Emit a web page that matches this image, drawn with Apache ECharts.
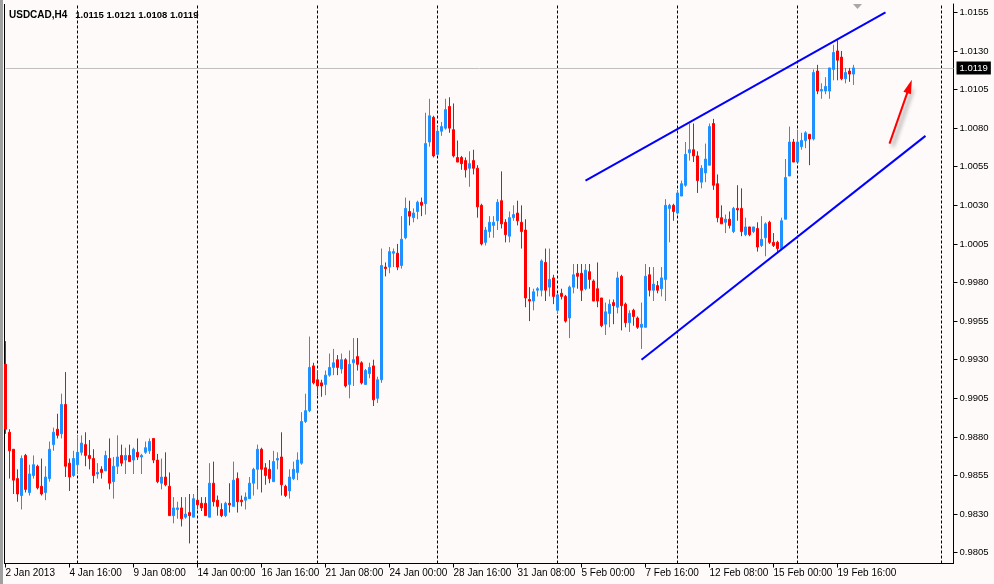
<!DOCTYPE html>
<html><head><meta charset="utf-8">
<script src="https://cdn.jsdelivr.net/npm/echarts@6/dist/echarts.min.js"></script>
<style>html,body{margin:0;padding:0;background:#FFFAFA}#c{width:994px;height:584px}</style>
</head><body><div id="c"></div>
<script>
const symbolName = 'USDCAD';
const timeframe = 'H4';
const opens = [0.9927,0.9883,0.9872,0.9853,0.9842,0.9868,0.9844,0.9855,0.9861,0.9848,0.9844,0.9853,0.9875,0.9885,0.9882,0.9901,0.9863,0.9855,0.9862,0.9870,
0.9875,0.9868,0.9866,0.9856,0.9859,0.9858,0.9866,0.9851,0.9861,0.9868,0.9865,0.9868,0.9865,0.9870,0.9867,0.9870,0.9871,0.9879,0.9865,0.9850,
0.9854,0.9848,0.9829,0.9833,0.9834,0.9828,0.9831,0.9828,0.9839,0.9837,0.9837,0.9828,0.9850,0.9839,0.9833,0.9829,0.9837,0.9835,0.9853,0.9839,
0.9839,0.9840,0.9850,0.9859,0.9872,0.9860,0.9859,0.9851,0.9865,0.9867,0.9848,0.9845,0.9853,0.9857,0.9863,0.9890,0.9897,0.9926,0.9917,0.9915,
0.9914,0.9920,0.9925,0.9930,0.9924,0.9930,0.9914,0.9928,0.9932,0.9928,0.9914,0.9921,0.9926,0.9905,0.9917,0.9990,0.9990,0.9999,0.9999,0.9991,
1.0009,1.0026,1.0022,1.0026,1.0032,1.0031,1.0071,1.0087,1.0063,1.0078,1.0080,1.0094,1.0079,1.0061,1.0061,1.0059,1.0054,1.0059,1.0054,1.0030,
1.0006,1.0013,1.0017,1.0020,1.0033,1.0019,1.0010,1.0022,1.0025,1.0019,1.0014,0.9969,0.9968,0.9975,0.9975,0.9993,0.9977,0.9983,0.9962,0.9973,
0.9971,0.9957,0.9977,0.9986,0.9986,0.9976,0.9987,0.9981,0.9976,0.9970,0.9953,0.9960,0.9967,0.9964,0.9984,0.9966,0.9954,0.9962,0.9957,0.9951,
0.9951,0.9985,0.9975,0.9978,0.9976,0.9982,1.0028,1.0030,1.0025,1.0036,1.0043,1.0064,1.0066,1.0062,1.0045,1.0051,1.0056,1.0083,1.0044,1.0022,
1.0019,1.0021,1.0013,1.0028,1.0028,1.0011,1.0016,1.0013,1.0015,1.0004,1.0009,1.0019,1.0006,1.0006,1.0002,1.0021,1.0049,1.0071,1.0058,1.0068,
1.0072,1.0076,1.0073,1.0117,1.0104,1.0104,1.0104,1.0118,1.0130,1.0126,1.0112,1.0117,1.0115];
const closes = [0.9885,0.9871,0.9852,0.9843,0.9866,0.9846,0.9856,0.9862,0.9847,0.9843,0.9854,0.9872,0.9883,0.9881,0.9901,0.9861,0.9854,0.9866,0.9870,0.9876,
0.9868,0.9866,0.9855,0.9857,0.9857,0.9868,0.9850,0.9861,0.9867,0.9863,0.9868,0.9864,0.9872,0.9867,0.9868,0.9873,0.9877,0.9865,0.9851,0.9854,
0.9849,0.9829,0.9834,0.9834,0.9827,0.9830,0.9829,0.9840,0.9836,0.9834,0.9829,0.9850,0.9838,0.9835,0.9829,0.9837,0.9836,0.9852,0.9838,0.9838,
0.9841,0.9850,0.9859,0.9872,0.9859,0.9855,0.9853,0.9864,0.9866,0.9849,0.9842,0.9854,0.9859,0.9865,0.9890,0.9897,0.9925,0.9915,0.9913,0.9913,
0.9920,0.9925,0.9928,0.9925,0.9930,0.9913,0.9927,0.9930,0.9927,0.9915,0.9923,0.9925,0.9904,0.9917,0.9991,0.9989,1.0000,1.0000,0.9990,1.0008,
1.0028,1.0023,1.0025,1.0032,1.0030,1.0070,1.0088,1.0062,1.0078,1.0081,1.0092,1.0080,1.0062,1.0058,1.0057,1.0053,1.0057,1.0054,1.0029,1.0005,
1.0014,1.0019,1.0019,1.0032,1.0018,1.0011,1.0022,1.0024,1.0020,1.0013,0.9970,0.9968,0.9974,0.9976,0.9994,0.9975,0.9982,0.9971,0.9972,0.9971,
0.9955,0.9977,0.9985,0.9984,0.9975,0.9988,0.9982,0.9968,0.9968,0.9952,0.9961,0.9966,0.9965,0.9983,0.9965,0.9954,0.9960,0.9958,0.9951,0.9953,
0.9984,0.9975,0.9979,0.9975,0.9983,1.0030,1.0030,1.0026,1.0038,1.0044,1.0063,1.0066,1.0062,1.0046,1.0054,1.0060,1.0081,1.0043,1.0022,1.0018,
1.0021,1.0017,1.0028,1.0027,1.0013,1.0016,1.0011,1.0016,1.0003,1.0008,1.0018,1.0006,1.0004,1.0002,1.0020,1.0048,1.0071,1.0058,1.0071,1.0072,
1.0077,1.0073,1.0116,1.0104,1.0105,1.0107,1.0119,1.0129,1.0124,1.0112,1.0116,1.0115,1.0119];
const lows = [0.9882,0.9853,0.9843,0.9838,0.9833,0.9844,0.9842,0.9853,0.9846,0.9842,0.9839,0.9851,0.9871,0.9879,0.9879,0.9854,0.9845,0.9854,0.9856,0.9868,
0.9861,0.9859,0.9850,0.9853,0.9853,0.9858,0.9846,0.9840,0.9856,0.9861,0.9856,0.9864,0.9856,0.9865,0.9856,0.9869,0.9869,0.9863,0.9850,0.9846,
0.9848,0.9829,0.9824,0.9827,0.9822,0.9827,0.9811,0.9828,0.9833,0.9832,0.9829,0.9828,0.9835,0.9829,0.9828,0.9828,0.9831,0.9835,0.9831,0.9835,
0.9833,0.9840,0.9842,0.9846,0.9844,0.9849,0.9850,0.9851,0.9859,0.9842,0.9841,0.9840,0.9852,0.9852,0.9862,0.9889,0.9896,0.9914,0.9907,0.9906,
0.9907,0.9919,0.9920,0.9920,0.9921,0.9912,0.9905,0.9913,0.9923,0.9914,0.9914,0.9918,0.9900,0.9902,0.9915,0.9984,0.9986,0.9990,0.9988,0.9989,
1.0008,1.0017,1.0019,1.0021,1.0023,1.0024,1.0068,1.0061,1.0062,1.0075,1.0079,1.0077,1.0061,1.0058,1.0053,1.0048,1.0042,1.0050,1.0022,1.0004,
1.0004,1.0009,1.0009,1.0014,1.0015,1.0006,1.0006,1.0020,1.0017,1.0002,0.9964,0.9955,0.9962,0.9971,0.9971,0.9968,0.9971,0.9966,0.9960,0.9969,
0.9954,0.9944,0.9973,0.9976,0.9968,0.9975,0.9976,0.9968,0.9964,0.9951,0.9946,0.9951,0.9953,0.9960,0.9949,0.9951,0.9948,0.9952,0.9950,0.9937,
0.9951,0.9971,0.9968,0.9973,0.9971,0.9968,1.0006,1.0020,1.0024,1.0036,1.0042,1.0059,1.0058,1.0038,1.0041,1.0045,1.0056,1.0040,1.0019,1.0018,
1.0012,1.0015,1.0012,1.0020,1.0010,1.0010,1.0010,1.0012,1.0000,1.0003,0.9997,1.0005,1.0003,0.9999,1.0002,1.0021,1.0049,1.0058,1.0058,1.0066,
1.0067,1.0056,1.0072,1.0102,1.0099,1.0102,1.0099,1.0111,1.0111,1.0111,1.0109,1.0110,1.0108];
const highs = [0.9942,0.9885,0.9872,0.9859,0.9868,0.9869,0.9862,0.9868,0.9862,0.9866,0.9861,0.9877,0.9886,0.9895,0.9908,0.9922,0.9866,0.9871,0.9881,0.9881,
0.9883,0.9878,0.9872,0.9863,0.9861,0.9871,0.9879,0.9867,0.9881,0.9875,0.9873,0.9875,0.9873,0.9879,0.9869,0.9877,0.9879,0.9879,0.9869,0.9866,
0.9870,0.9857,0.9841,0.9838,0.9841,0.9841,0.9843,0.9843,0.9847,0.9841,0.9841,0.9863,0.9864,0.9842,0.9837,0.9838,0.9850,0.9864,0.9857,0.9842,
0.9844,0.9854,0.9860,0.9875,0.9873,0.9863,0.9865,0.9871,0.9870,0.9883,0.9849,0.9859,0.9864,0.9870,0.9896,0.9908,0.9945,0.9928,0.9923,0.9917,
0.9923,0.9934,0.9937,0.9933,0.9934,0.9931,0.9936,0.9944,0.9944,0.9929,0.9924,0.9928,0.9930,0.9919,1.0002,0.9993,1.0003,1.0002,1.0005,1.0023,
1.0035,1.0033,1.0028,1.0033,1.0035,1.0090,1.0099,1.0088,1.0081,1.0084,1.0099,1.0100,1.0096,1.0072,1.0062,1.0061,1.0065,1.0066,1.0056,1.0031,
1.0016,1.0023,1.0023,1.0034,1.0052,1.0021,1.0026,1.0030,1.0033,1.0030,1.0021,0.9977,0.9976,0.9977,0.9995,1.0002,1.0002,0.9985,0.9973,0.9976,
0.9972,0.9978,0.9992,0.9992,0.9992,0.9992,0.9992,0.9982,0.9993,0.9970,0.9967,0.9969,0.9969,0.9987,0.9985,0.9967,0.9962,0.9963,0.9958,0.9967,
0.9992,0.9990,0.9990,0.9981,0.9990,1.0034,1.0031,1.0031,1.0040,1.0046,1.0071,1.0083,1.0083,1.0065,1.0056,1.0070,1.0083,1.0086,1.0050,1.0030,
1.0024,1.0026,1.0029,1.0043,1.0041,1.0022,1.0016,1.0016,1.0019,1.0023,1.0019,1.0020,1.0012,1.0007,1.0022,1.0060,1.0081,1.0073,1.0079,1.0077,
1.0078,1.0076,1.0118,1.0121,1.0109,1.0113,1.0119,1.0134,1.0137,1.0130,1.0119,1.0119,1.0121];
const tickLabels = ['2 Jan 2013','4 Jan 16:00','9 Jan 08:00','14 Jan 00:00','16 Jan 16:00','21 Jan 08:00','24 Jan 00:00','28 Jan 16:00','31 Jan 08:00','5 Feb 00:00','7 Feb 16:00','12 Feb 08:00','15 Feb 00:00','19 Feb 16:00'];
const tickEvery = 16;
const priceTicks = [0.9805,0.9830,0.9855,0.9880,0.9905,0.9930,0.9955,0.9980,1.0005,1.0030,1.0055,1.0080,1.0105,1.0130,1.0155];
const currentPrice = 1.0119;
const weekStartIdx = [18,48,78,108,138,168,198,234];
const upperChannel = [[145,1.0046],[220,1.0155]];
const lowerChannel = [[159,0.9930],[230,1.0075]];
const arrowFrom = [221,1.0070];
const arrowTo = [226,1.0107];
const totalSlots = 238;
const yMin = 0.97980, yMax = 1.01604;

// bar time categories (H4, weekdays only)
const cats = [];
(function(){
  const d = new Date(Date.UTC(2013,0,2)); const mon = ['Jan','Feb','Mar'];
  while (cats.length < totalSlots) {
    const wd = d.getUTCDay();
    if (wd !== 0 && wd !== 6) {
      for (let h = 0; h < 24 && cats.length < totalSlots; h += 4)
        cats.push(d.getUTCDate() + ' ' + mon[d.getUTCMonth()] + ' ' + String(h).padStart(2,'0') + ':00');
    }
    d.setUTCDate(d.getUTCDate() + 1);
  }
})();
const candles = opens.map((o,i) => [o, closes[i], lows[i], highs[i]]);
const n = opens.length;
const fmt = v => v.toFixed(4);
const FONT = 'Liberation Sans';

const chart = echarts.init(document.getElementById('c'), null, {renderer:'canvas'});
chart.setOption({
  animation: false,
  backgroundColor: '#FFFAFA',
  title: {
    left: 9, top: 6, padding: 0,
    text: '{a|' + symbolName + ',' + timeframe + '} {b|' + [opens[n-1], highs[n-1], lows[n-1], closes[n-1]].map(fmt).join(' ') + '}',
    textStyle: {rich: {
      a: {fontFamily: FONT, fontSize: 10, color: '#000'},
      b: {fontFamily: FONT, fontSize: 9.5, color: '#000', padding: [0,0,0,3]}
    }}
  },
  grid: {left: 5.5, right: 40.5, top: 4, bottom: 20.5, containLabel: false},
  xAxis: {
    type: 'category', data: cats, boundaryGap: false,
    axisLine: {show: true, lineStyle: {color: '#000', width: 1}},
    axisTick: {show: true, length: 4, lineStyle: {color: '#000'},
      interval: (idx) => idx % tickEvery === 0 && idx / tickEvery < tickLabels.length},
    axisLabel: {show: true, align: 'left', margin: 5, color: '#000', fontFamily: FONT, fontSize: 10,
      interval: (idx) => idx % tickEvery === 0 && idx / tickEvery < tickLabels.length,
      formatter: (v, idx) => tickLabels[idx / tickEvery] || ''},
    splitLine: {show: false}
  },
  yAxis: {
    type: 'value', position: 'right', min: yMin, max: yMax, scale: true,
    axisLine: {show: true, lineStyle: {color: '#000', width: 1}},
    axisTick: {show: true, length: 4, inside: false, customValues: priceTicks, lineStyle: {color: '#000'}},
    axisLabel: {show: true, margin: 6, color: '#000', fontFamily: FONT, fontSize: 9.5,
      customValues: priceTicks, formatter: v => fmt(v)},
    splitLine: {show: false}
  },
  series: [
    {
      type: 'candlestick', z: 2, clip: false, barWidth: 2,
      data: candles,
      itemStyle: {color: '#1E90FF', color0: '#FF0000', borderColor: '#1E90FF', borderColor0: '#FF0000', borderWidth: 1},
      emphasis: {disabled: true},
      markLine: {
        z: 1, silent: true, symbol: ['none','none'], animation: false, precision: 4,
        label: {show: false},
        data: weekStartIdx.map(i => ({xAxis: i, lineStyle: {color: '#000', width: 1, type: [3,2]}, label: {show: false}}))
          .concat([{yAxis: currentPrice, lineStyle: {color: '#C0C0C0', width: 1, type: 'solid'},
            label: {show: true, position: 'end', distance: 3, formatter: fmt(currentPrice),
              backgroundColor: '#000', color: '#fff', padding: [2,3,1,3], fontFamily: FONT, fontSize: 9.5}}])
      }
    },
    {
      type: 'line', z: 3, data: upperChannel, symbol: 'none', silent: true,
      lineStyle: {color: '#0000FF', width: 2}
    },
    {
      type: 'line', z: 3, data: lowerChannel, symbol: 'none', silent: true,
      lineStyle: {color: '#0000FF', width: 2},
      markLine: {
        z: 4, silent: true, symbol: ['none','triangle'], symbolSize: [8, 14], precision: 4,
        label: {show: false},
        lineStyle: {color: '#FF0000', width: 2, type: 'solid', shadowBlur: 4, shadowColor: 'rgba(0,0,0,0.45)', shadowOffsetX: 3, shadowOffsetY: 3},
        itemStyle: {color: '#FF0000'},
        data: [[{coord: arrowFrom, itemStyle: {color: '#FF0000'}}, {coord: arrowTo, itemStyle: {color: '#FF0000'}}]]
      }
    }
  ],
  graphic: [
    {type: 'rect', shape: {x: 0, y: 0, width: 3, height: 584}, style: {fill: '#A0A0A0'}, silent: true},
    {type: 'line', shape: {x1: 4.5, y1: 4, x2: 4.5, y2: 564}, style: {stroke: '#000', lineWidth: 1}, silent: true},
    {type: 'polygon', shape: {points: [[853,4],[862,4],[857.5,9]]}, style: {fill: '#A8A8A8'}, silent: true}
  ]
});
</script></body></html>
